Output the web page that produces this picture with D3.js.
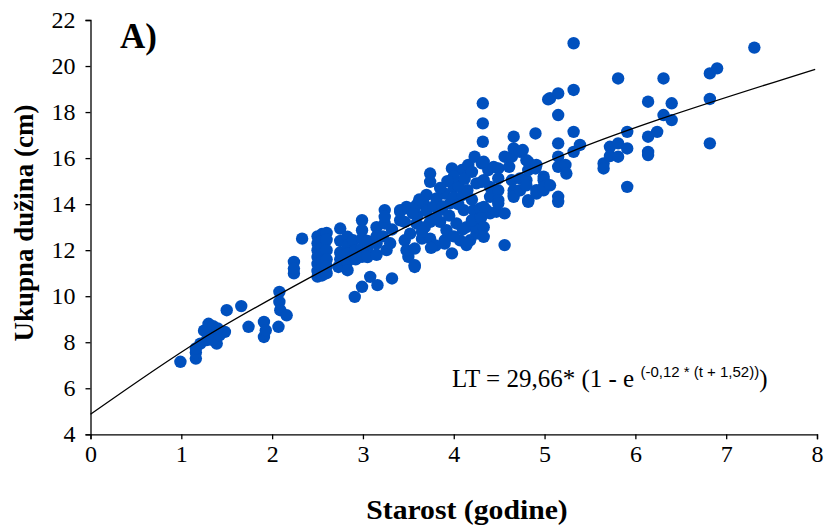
<!DOCTYPE html>
<html><head><meta charset="utf-8">
<script src="https://cdn.jsdelivr.net/npm/d3@7"></script>
<style>body{margin:0;background:#fff}svg{display:block}</style>
</head><body>
<svg id="c" width="825" height="528"></svg>
<script>
// Observed points: age (years) and total length (cm)
const ages = [0.99,1.16,1.16,1.16,1.21,1.28,1.30,1.32,1.37,1.39,1.37,1.30,1.34,1.42,1.48,1.50,1.66,1.74,1.25,1.35,1.40,
1.91,1.91,1.93,2.07,2.08,2.08,2.09,2.16,2.24,2.24,2.24,2.33,
2.50,2.50,2.50,2.50,2.50,2.50,2.50,2.55,2.55,2.55,2.55,2.55,2.55,2.55,2.60,2.60,2.60,2.60,2.60,2.60,
2.75,2.73,2.75,2.75,2.75,2.83,2.83,2.83,2.83,2.83,2.89,2.91,2.92,2.92,2.99,2.99,2.99,2.99,2.99,2.99,
3.08,3.05,3.05,3.05,3.15,3.15,3.16,3.15,3.15,3.24,3.24,3.26,3.22,3.24,3.32,3.30,3.32,
3.41,3.41,3.48,3.46,3.50,3.57,3.59,3.41,
3.46,3.52,3.48,3.57,3.57,3.65,3.74,3.68,3.74,3.85,3.90,3.98,3.92,4.03,4.07,4.14,4.18,4.25,4.11,4.22,4.29,4.36,4.40,4.40,4.40,4.14,3.85,3.96,3.50,3.59,3.67,3.81,3.90,4.00,4.09,3.74,3.74,3.98,4.16,4.23,4.31,4.31,4.38,4.44,3.90,4.14,4.25,
3.60,3.70,3.78,3.80,3.88,3.95,4.00,4.05,4.10,4.15,4.20,4.25,4.05,4.00,4.12,4.20,3.93,3.85,3.70,3.62,3.55,3.65,3.80,4.00,4.10,4.20,4.30,4.33,4.33,4.33,3.75,
4.32,4.32,4.32,4.33,4.33,4.49,4.49,4.49,4.49,4.47,4.56,4.49,
4.56,4.56,4.61,4.64,4.64,4.66,4.66,4.66,4.66,4.66,4.73,4.73,4.73,4.76,4.80,4.80,4.80,4.82,4.82,4.82,4.82,4.90,4.90,4.91,4.91,4.91,4.99,4.99,4.99,4.99,5.06,5.04,
5.06,5.15,5.32,5.32,5.15,5.32,5.15,5.39,5.32,5.15,5.15,5.23,5.24,5.15,5.15,
5.65,5.65,5.72,5.72,5.81,5.81,5.81,5.91,5.91,5.91,6.14,6.14,6.14,6.14,6.24,6.31,6.31,6.40,6.40,6.82,6.82,6.82,6.90,7.31];
const lengths = [7.15,7.29,7.55,7.73,7.94,8.09,8.67,8.38,8.52,7.94,8.23,8.80,8.10,8.30,8.45,9.39,9.57,8.67,8.50,8.70,8.60,
8.88,8.23,8.52,8.67,10.19,9.75,9.39,9.17,11.49,10.99,11.20,12.50,
12.60,12.30,12.00,11.70,11.40,11.10,10.85,12.70,12.40,12.10,11.80,11.50,11.20,10.90,12.75,12.45,12.00,11.60,11.30,11.00,
12.94,11.27,11.60,11.90,12.40,12.58,12.20,11.85,11.50,11.13,12.43,9.97,12.00,11.60,13.30,12.87,12.50,12.10,11.71,10.41,
10.84,12.40,12.00,11.70,13.00,12.29,10.48,12.60,11.80,13.74,13.16,12.00,12.60,13.45,10.77,12.30,12.90,
13.74,13.30,13.88,12.43,11.71,11.27,13.16,13.67,
13.23,12.72,12.00,12.07,11.35,12.50,12.50,13.00,13.23,13.23,12.43,11.86,12.87,13.16,12.43,13.00,12.43,12.72,13.74,13.74,13.81,13.74,13.60,14.75,14.32,12.22,13.74,14.03,13.81,13.96,14.03,14.25,14.46,14.75,15.48,15.33,14.97,15.55,15.70,16.06,15.77,14.97,15.48,15.62,12.29,12.29,13.00,
13.50,13.70,13.90,13.40,13.90,13.50,14.30,14.00,14.40,14.60,14.20,14.90,14.80,15.20,15.10,15.40,15.00,14.70,14.40,14.20,13.60,12.80,12.20,12.60,12.90,13.30,13.40,13.88,13.00,12.58,12.10,
18.38,17.51,16.71,15.84,15.04,15.55,15.12,14.60,14.17,13.67,13.60,14.03,
12.22,16.06,15.62,15.04,16.06,16.93,16.42,14.46,14.60,14.32,16.27,15.12,14.60,16.35,15.91,15.04,14.82,15.48,14.17,14.10,15.84,17.07,15.55,15.70,14.46,14.60,15.19,15.04,14.60,14.75,14.82,18.55,
18.60,18.81,18.96,20.99,17.87,17.14,16.64,16.57,16.27,16.06,15.62,15.70,15.33,14.32,14.10,
15.77,15.55,16.49,16.09,16.64,16.06,19.46,17.14,16.42,14.75,18.45,16.93,16.27,16.13,17.14,19.46,17.87,18.38,17.65,19.68,18.57,16.64,19.90,20.80];

// Fitted growth curve
const curveT  = [0, 1.21, 2.42, 3.74, 4.29, 5.39, 6.27, 7.98];
const curveLT = [4.87, 8.10, 10.82, 13.53, 14.54, 16.43, 17.69, 19.86];

const xTicks = [0,1,2,3,4,5,6,7,8];
const yTicks = [4,6,8,10,12,14,16,18,20,22];

const svg = d3.select("#c");
const L = 90.5, R = 817, T = 20, B = 434.3;
const x = d3.scaleLinear().domain([0,8]).range([L,R]);
const y = d3.scaleLinear().domain([4,22]).range([B,T]);

const serif = "'Liberation Serif','Times New Roman',serif";

// dots
const pts = ages.map((a,i)=>[a,lengths[i]]);
svg.append("g").selectAll("circle").data(pts).join("circle")
  .attr("cx",d=>x(d[0])).attr("cy",d=>y(d[1])).attr("r",6.2)
  .attr("fill","#0050BE");

// curve
svg.append("path")
  .datum(curveT.map((t,i)=>[t,curveLT[i]]))
  .attr("fill","none").attr("stroke","#000").attr("stroke-width",1.3)
  .attr("d", d3.line().x(d=>x(d[0])).y(d=>y(d[1])).curve(d3.curveCatmullRom));

// axes
const xa = svg.append("g").attr("transform",`translate(0,${B})`)
  .call(d3.axisBottom(x).tickValues(xTicks).tickSize(5).tickPadding(6).tickFormat(d3.format("d")));
const ya = svg.append("g").attr("transform",`translate(${L},0)`)
  .call(d3.axisLeft(y).tickValues(yTicks).tickSize(5).tickPadding(10).tickFormat(d3.format("d")));
[xa,ya].forEach(g=>{
  g.select(".domain").attr("stroke","#000").attr("stroke-width",1.3);
  g.selectAll(".tick line").attr("stroke","#000").attr("stroke-width",1.3);
  g.selectAll(".tick text").attr("fill","#000").style("font-family",serif).style("font-size","24px");
});

// titles
svg.append("text").attr("transform","translate(467,519) scale(1.1,1)").attr("text-anchor","middle")
  .style("font-family",serif).style("font-weight","bold").style("font-size","27px")
  .text("Starost (godine)");
svg.append("text").attr("transform","translate(33,223) rotate(-90)").attr("text-anchor","middle")
  .style("font-family",serif).style("font-weight","bold").style("font-size","27px")
  .text("Ukupna dužina (cm)");
svg.append("text").attr("x",120).attr("y",48)
  .style("font-family",serif).style("font-weight","bold").style("font-size","35px")
  .text("A)");

// equation
const eq = svg.append("text").attr("x",452).attr("y",387).style("font-family",serif).style("font-size","25px");
eq.append("tspan").text("LT = 29,66* (1 - e ");
eq.append("tspan").attr("dy",-10).style("font-family","'Liberation Sans',Arial,sans-serif").style("font-size","15px").text("(-0,12 * (t + 1,52))");
eq.append("tspan").attr("dy",10).text(")");
</script>
</body></html>
